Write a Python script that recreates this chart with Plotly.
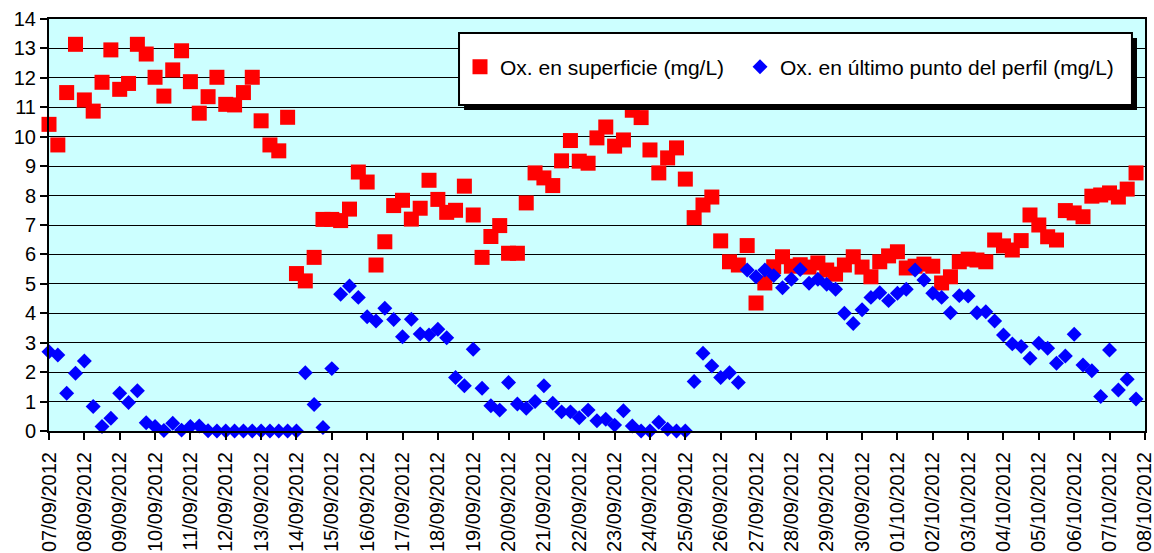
import pandas as pd
import plotly.graph_objects as go

# Sampling: every 6 hours starting 07/09/2012 00:00
start_date = "2012-09-07"
end_date = "2012-10-08"
n_points = 124
times = pd.date_range(start_date, periods=n_points, freq="6h")
tick_dates = pd.date_range(start_date, end_date, freq="D")

superficie = [
    10.42, 9.72, 11.5, 13.14, 11.25, 10.87, 11.85, 12.95, 11.61, 11.81,
    13.14, 12.81, 12.02, 11.38, 12.27, 12.92, 11.87, 10.8, 11.36, 12.02,
    11.1, 11.08, 11.5, 12.02, 10.54, 9.72, 9.52, 10.66, 5.35, 5.1,
    5.9, 7.19, 7.19, 7.15, 7.54, 8.8, 8.46, 5.64, 6.43, 7.66,
    7.84, 7.2, 7.57, 8.52, 7.87, 7.43, 7.5, 8.32, 7.34, 5.9,
    6.61, 6.98, 6.04, 6.04, 7.75, 8.77, 8.6, 8.34, 9.18, 9.87,
    9.17, 9.1, 9.96, 10.33, 9.68, 9.89, 10.9, 10.65, 9.55, 8.77,
    9.28, 9.62, 8.56, 7.25, 7.68, 7.95, 6.46, 5.75, 5.64, 6.3,
    4.35, 5.03, 5.58, 5.92, 5.6, 5.65, 5.57, 5.71, 5.47, 5.33,
    5.64, 5.92, 5.57, 5.24, 5.75, 5.95, 6.09, 5.54, 5.6, 5.67,
    5.6, 5.03, 5.24, 5.75, 5.84, 5.81, 5.75, 6.49, 6.29, 6.15,
    6.47, 7.34, 7.0, 6.6, 6.49, 7.49, 7.41, 7.28, 7.98, 8.02,
    8.09, 7.95, 8.22, 8.77,
]

ultimo_punto = [
    2.69, 2.58, 1.28, 1.96, 2.38, 0.83, 0.15, 0.43, 1.28, 0.97,
    1.37, 0.28, 0.15, 0.02, 0.26, 0.03, 0.15, 0.17, 0.01, 0.0,
    0.0, 0.0, 0.0, 0.0, 0.0, 0.0, 0.0, 0.0, 0.0, 1.98,
    0.9, 0.12, 2.12, 4.65, 4.93, 4.54, 3.88, 3.74, 4.17, 3.79,
    3.2, 3.8, 3.3, 3.26, 3.46, 3.17, 1.82, 1.54, 2.78, 1.45,
    0.86, 0.71, 1.65, 0.92, 0.77, 1.0, 1.54, 0.94, 0.65, 0.65,
    0.45, 0.71, 0.35, 0.4, 0.2, 0.69, 0.17, 0.0, 0.0, 0.3,
    0.06, 0.0, 0.0, 1.68, 2.64, 2.21, 1.82, 1.98, 1.65, 5.47,
    5.24, 5.47, 5.28, 4.87, 5.16, 5.49, 5.02, 5.16, 4.99, 4.82,
    4.0, 3.65, 4.12, 4.54, 4.7, 4.43, 4.68, 4.82, 5.47, 5.13,
    4.68, 4.54, 4.02, 4.6, 4.59, 4.02, 4.05, 3.74, 3.26, 2.96,
    2.87, 2.47, 2.98, 2.81, 2.3, 2.55, 3.29, 2.24, 2.05, 1.17,
    2.75, 1.39, 1.76, 1.09,
]

series_names = ["Ox. en superficie (mg/L)", "Ox. en último punto del perfil (mg/L)"]
x_range = [start_date, "2012-10-08 00:05"]
y_range = [0, 14]

FONT = "Liberation Sans, Arial, sans-serif"

fig = go.Figure()
fig.add_trace(go.Scatter(
    x=times, y=superficie, mode="markers", name=series_names[0],
    marker=dict(symbol="square", size=15, color="#FF0000", line=dict(width=0)),
    cliponaxis=False, legend="legend",
))
fig.add_trace(go.Scatter(
    x=times, y=ultimo_punto, mode="markers", name=series_names[1],
    marker=dict(symbol="diamond", size=11.5, color="#0000FF", line=dict(width=0)),
    cliponaxis=False, legend="legend2",
))

# Legend box with shadow (paper coordinates)
fig.add_shape(type="rect", xref="paper", yref="paper",
              x0=0.3787, x1=0.9927, y0=0.7791, y1=0.9539,
              fillcolor="black", line=dict(width=0), layer="above")
fig.add_shape(type="rect", xref="paper", yref="paper",
              x0=0.3741, x1=0.9881, y0=0.7913, y1=0.966,
              fillcolor="white", line=dict(color="black", width=2), layer="above")

legend_common = dict(
    orientation="h",
    yanchor="middle",
    y=0.8835,
    xanchor="left",
    bgcolor="rgba(0,0,0,0)",
    borderwidth=0,
    font=dict(family=FONT, size=21, color="black"),
)

fig.update_layout(
    width=1154, height=553,
    margin=dict(l=49, r=9, t=19, b=122, autoexpand=False),
    paper_bgcolor="white",
    plot_bgcolor="#CCFFFF",
    font=dict(family=FONT, color="black", size=20),
    showlegend=True,
    legend=dict(legend_common, x=0.375),
    legend2=dict(legend_common, x=0.6305),
    xaxis=dict(
        type="date",
        range=x_range,
        tickmode="array",
        tickvals=tick_dates,
        ticktext=[d.strftime("%d/%m/%Y") for d in tick_dates],
        tickangle=-90,
        ticks="outside", ticklen=7, tickwidth=2, tickcolor="black",
        ticklabelstandoff=4,
        ticklabeloverflow="allow",
        showline=True, linecolor="black", linewidth=2, mirror=True,
        showgrid=False, zeroline=False,
        automargin=False,
        tickfont=dict(family=FONT, size=20, color="black"),
    ),
    yaxis=dict(
        range=y_range,
        tickmode="linear", tick0=0, dtick=1,
        ticks="outside", ticklen=7, tickwidth=2, tickcolor="black",
        showline=True, linecolor="black", linewidth=2, mirror=True,
        showgrid=True, gridcolor="black", gridwidth=1,
        zeroline=False,
        automargin=False,
        tickfont=dict(family=FONT, size=20, color="black"),
    ),
)

fig.write_html(
    "out.html",
    config={"displayModeBar": False},
    post_script="document.body.style.margin='0px';",
)
